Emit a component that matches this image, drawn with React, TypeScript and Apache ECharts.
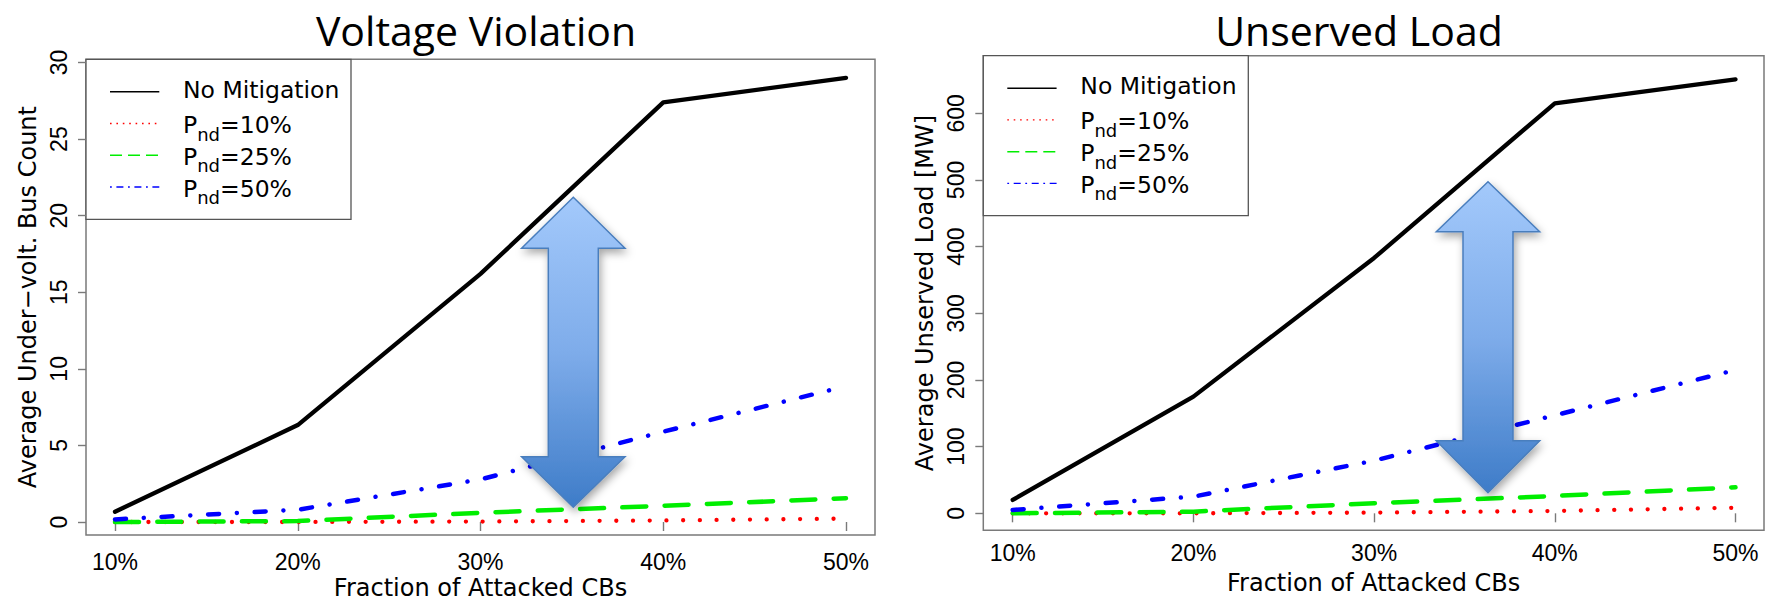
import React, { useEffect, useRef } from "react";
import * as echarts from "echarts";

// ---------- data ----------
const attackedFractions = [10, 20, 30, 40, 50]; // Fraction of attacked CBs (%)
const xTickLabels = ["10%", "20%", "30%", "40%", "50%"];

const seriesNames = ["No Mitigation", "Pnd=10%", "Pnd=25%", "Pnd=50%"];
const legendLabels = ["No Mitigation", "{m|P}{s|nd}{m|=10%}", "{m|P}{s|nd}{m|=25%}", "{m|P}{s|nd}{m|=50%}"];

// Voltage violation: average under-volt. bus count
const voltNoMitigation = [0.67, 6.33, 16.2, 27.4, 29.0];
const voltPnd10 = [0, 0, 0.03, 0.1, 0.22];
const voltPnd25 = [0, 0.06, 0.6, 1.06, 1.55];
const voltPnd50 = [0.17, 0.8, 2.78, 5.9, 8.87];

// Unserved load [MW]
const loadNoMitigation = [20, 175, 383, 615, 651];
const loadPnd10 = [0, 0, 1, 3.5, 8.4];
const loadPnd25 = [0, 2.5, 15, 26, 39];
const loadPnd50 = [5, 25, 79, 147, 215];

const chartTitles = ["Voltage Violation", "Unserved Load"];
const xAxisTitle = "Fraction of Attacked CBs";
const yAxisTitles = ["Average Under\u2212volt. Bus Count", "Average Unserved Load [MW]"];

// ---------- styles ----------
const TICK_FONT = "Liberation Sans";
const AXIS_FONT = "DejaVu Sans";
const TITLE_FONT = "Open Sans";
const FRAME_COLOR = "#7a7a7a";

const lineStyles = [
  { color: "#000000", width: 4.3, type: "solid" as any, cap: "round" as any },
  { color: "#ff0000", width: 4.3, type: [0.01, 16.7] as any, cap: "round" as any },
  { color: "#00ee00", width: 4.5, type: [24, 18.3] as any, cap: "round" as any },
  { color: "#0000ff", width: 4.5, type: [11, 17.8, 0.01, 17.8] as any, cap: "round" as any },
];
const legendDash: any[] = [null, [1.6, 4.8], [12, 6], [1.8, 4.6, 7, 4.6]];

function pairs(vals: number[]) {
  return attackedFractions.map((x, i) => [x, vals[i]]);
}

function dataXAxis(gridIndex: number, offset: number) {
  return {
    type: "value",
    gridIndex,
    min: 10,
    max: 50,
    interval: 10,
    offset,
    axisLine: { show: false },
    axisTick: { show: true, length: 9, lineStyle: { color: FRAME_COLOR, width: 1.4 } },
    axisLabel: {
      show: true,
      margin: 11,
      fontSize: 23,
      fontFamily: TICK_FONT,
      color: "#000",
      showMinLabel: true,
      showMaxLabel: true,
      formatter: (v: number) => {
        const i = attackedFractions.indexOf(v);
        return i >= 0 ? xTickLabels[i] : "";
      },
    },
    splitLine: { show: false },
  };
}

function dataYAxis(gridIndex: number, max: number, interval: number, offset: number) {
  return {
    type: "value",
    gridIndex,
    min: 0,
    max,
    interval,
    offset,
    axisLine: { show: false },
    axisTick: { show: true, length: 8, lineStyle: { color: FRAME_COLOR, width: 1.4 } },
    axisLabel: {
      show: true,
      rotate: 90,
      margin: 16,
      fontSize: 23,
      fontFamily: TICK_FONT,
      color: "#000",
      showMinLabel: true,
      showMaxLabel: true,
    },
    splitLine: { show: false },
  };
}

function frameAxis(gridIndex: number, name: string, isY: boolean) {
  return {
    type: "value",
    gridIndex,
    min: 0,
    max: 1,
    axisLine: { show: false },
    axisTick: { show: false },
    axisLabel: { show: false },
    splitLine: { show: false },
    name,
    nameLocation: "middle",
    nameGap: isY ? 46 : 41,
    nameRotate: isY ? 90 : 0,
    nameTextStyle: { fontFamily: AXIS_FONT, fontSize: 24, color: "#000" },
  };
}

function arrowPoints(cx: number, top: number, headTopY: number, headBotY: number, bottom: number) {
  const hw = 51.7;
  const sw = 25;
  return [
    [cx, top],
    [cx + hw, headTopY],
    [cx + sw, headTopY],
    [cx + sw, headBotY],
    [cx + hw, headBotY],
    [cx, bottom],
    [cx - hw, headBotY],
    [cx - sw, headBotY],
    [cx - sw, headTopY],
    [cx - hw, headTopY],
  ];
}

function arrowGraphic(cx: number, top: number, headTopY: number, headBotY: number, bottom: number) {
  return {
    type: "polygon",
    z: 100,
    shape: { points: arrowPoints(cx, top, headTopY, headBotY, bottom) },
    style: {
      fill: new echarts.graphic.LinearGradient(0, 0, 0, 1, [
        { offset: 0, color: "#a3c9fb" },
        { offset: 0.5, color: "#7eacea" },
        { offset: 1, color: "#3e7cc8" },
      ]),
      stroke: "#4a7ebd",
      lineWidth: 1.5,
      shadowBlur: 8,
      shadowColor: "rgba(0,0,0,0.35)",
      shadowOffsetX: 2,
      shadowOffsetY: 4,
    },
  };
}

function legendGraphic(x0: number, y0: number) {
  const rowOffsets = [32.5, 64.2, 96, 127.7];
  const children: any[] = [
    {
      type: "rect",
      shape: { x: x0, y: y0, width: 265, height: 160 },
      style: { fill: "#ffffff", stroke: "#555555", lineWidth: 1.3 },
    },
  ];
  rowOffsets.forEach((dy, i) => {
    const y = y0 + dy;
    children.push({
      type: "line",
      shape: { x1: x0 + 24, y1: y, x2: x0 + 73.3, y2: y },
      style: {
        stroke: lineStyles[i].color,
        lineWidth: 1.4,
        lineDash: legendDash[i] || undefined,
      },
    });
    children.push({
      type: "text",
      x: x0 + 97,
      y: i === 0 ? y - 2 : y + 1.5,
      style: {
        text: legendLabels[i],
        fill: "#000",
        fontFamily: AXIS_FONT,
        fontSize: 23.5,
        align: "left",
        verticalAlign: "middle",
        rich: {
          m: { fontFamily: AXIS_FONT, fontSize: 23.5, lineHeight: 24, verticalAlign: "top" },
          s: { fontFamily: AXIS_FONT, fontSize: 18, lineHeight: 18, verticalAlign: "top", padding: [12, 0, 0, 0] },
        },
      },
    });
  });
  return { type: "group", z: 60, children };
}

export default function App() {
  const ref = useRef<HTMLDivElement>(null);

  useEffect(() => {
    if (!ref.current) return;
    const chart = echarts.init(ref.current, undefined, { renderer: "svg" });

    const leftSeries = [voltNoMitigation, voltPnd10, voltPnd25, voltPnd50];
    const rightSeries = [loadNoMitigation, loadPnd10, loadPnd25, loadPnd50];

    const series: any[] = [];
    leftSeries.forEach((vals, i) => {
      series.push({
        type: "line",
        name: seriesNames[i],
        xAxisIndex: 0,
        yAxisIndex: 0,
        data: pairs(vals),
        symbol: "none",
        clip: false,
        lineStyle: lineStyles[i],
        z: 2 + i,
      });
    });
    rightSeries.forEach((vals, i) => {
      series.push({
        type: "line",
        name: seriesNames[i],
        xAxisIndex: 2,
        yAxisIndex: 2,
        data: pairs(vals),
        symbol: "none",
        clip: false,
        lineStyle: lineStyles[i],
        z: 2 + i,
      });
    });

    const option: any = {
      animation: false,
      backgroundColor: "#ffffff",
      grid: [
        { left: 115, top: 62.5, width: 731, height: 459.5, show: false },
        { left: 86, top: 59.3, width: 789, height: 480, show: true, borderColor: FRAME_COLOR, borderWidth: 1.5, backgroundColor: "transparent" },
        { left: 1012.7, top: 113.3, width: 722.8, height: 400, show: false },
        { left: 983.3, top: 55.7, width: 780.7, height: 474.6, show: true, borderColor: FRAME_COLOR, borderWidth: 1.5, backgroundColor: "transparent" },
      ],
      xAxis: [
        dataXAxis(0, 17.3),
        frameAxis(1, xAxisTitle, false),
        dataXAxis(2, 17),
        frameAxis(3, xAxisTitle, false),
      ],
      yAxis: [
        dataYAxis(0, 30, 5, 29),
        frameAxis(1, yAxisTitles[0], true),
        dataYAxis(2, 600, 100, 29.4),
        frameAxis(3, yAxisTitles[1], true),
      ],
      series,
      graphic: [
        {
          type: "text",
          x: 476,
          y: 30,
          style: { text: chartTitles[0], fontFamily: TITLE_FONT, fontSize: 41, fill: "#000", align: "center", verticalAlign: "middle" },
        },
        {
          type: "text",
          x: 1359,
          y: 30,
          style: { text: chartTitles[1], fontFamily: TITLE_FONT, fontSize: 41, fill: "#000", align: "center", verticalAlign: "middle" },
        },
        legendGraphic(86, 59.3),
        legendGraphic(983.3, 55.7),
        arrowGraphic(573.3, 197.3, 248.3, 456.7, 507.3),
        arrowGraphic(1488, 181.7, 231.7, 440.7, 492.7),
      ],
    };

    chart.setOption(option);
    return () => chart.dispose();
  }, []);

  return (
    <div
      ref={ref}
      style={{ position: "absolute", left: 0, top: 0, width: 1777, height: 605, background: "#fff" }}
    />
  );
}
